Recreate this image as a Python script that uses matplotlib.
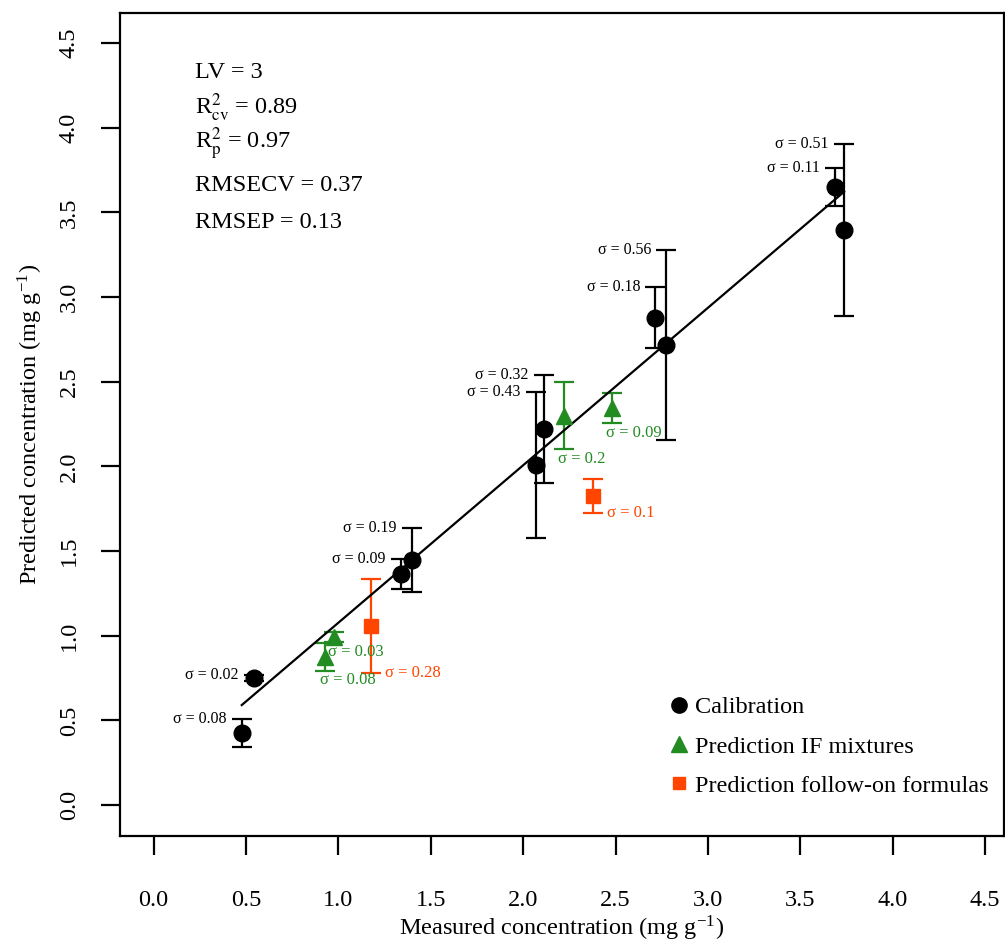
import numpy as np
import matplotlib.pyplot as plt
from matplotlib.lines import Line2D

plt.rcParams['font.family'] = ['Liberation Serif', 'DejaVu Serif']
plt.rcParams['mathtext.fontset'] = 'stix'

# calibration samples
cal_x = [0.477, 0.542, 1.337, 1.397, 2.067, 2.110, 2.716, 2.774, 3.688, 3.737]
cal_y = [0.425, 0.750, 1.364, 1.447, 2.008, 2.221, 2.877, 2.717, 3.650, 3.396]
cal_sd = [0.08, 0.02, 0.09, 0.19, 0.43, 0.32, 0.18, 0.56, 0.11, 0.51]

# prediction, IF mixtures
if_x = [0.975, 0.930, 2.220, 2.480]
if_y = [0.990, 0.874, 2.300, 2.345]
if_sd = [0.03, 0.08, 0.20, 0.09]

# prediction, follow-on formulas
fo_x = [1.175, 2.376]
fo_y = [1.057, 1.825]
fo_sd = [0.28, 0.10]

stats = ['LV = 3', r'R$^2_{\mathrm{cv}}$ = 0.89', r'R$^2_{\mathrm{p}}$ = 0.97',
         'RMSECV = 0.37', 'RMSEP = 0.13']
ticks = [0.0, 0.5, 1.0, 1.5, 2.0, 2.5, 3.0, 3.5, 4.0, 4.5]

GREEN = '#228B22'
ORANGE = '#FF4500'
FS = 17.5

fig = plt.figure(figsize=(10.05, 9.43), dpi=100)
ax = fig.add_axes([0.1194, 0.1135, 0.8796, 0.8727])

ekw = dict(linestyle='none', capsize=7, elinewidth=1.6, capthick=1.6)
ax.errorbar(cal_x, cal_y, yerr=cal_sd, fmt='o', color='black', ms=12, **ekw)
ax.errorbar(if_x, if_y, yerr=if_sd, fmt='^', color=GREEN, ms=12, **ekw)
ax.errorbar(fo_x, fo_y, yerr=fo_sd, fmt='s', color=ORANGE, ms=10, **ekw)

# regression line over calibration range
slope, icpt = np.polyfit(cal_x, cal_y, 1)
xl = np.array([min(cal_x), max(cal_x)])
ax.plot(xl, slope * xl + icpt, color='black', lw=1.6)

# sigma labels
for x, y, s in zip(cal_x, cal_y, cal_sd):
    ax.annotate('\u03c3 = %g' % s, (x, y + s), xytext=(-11, 0), textcoords='offset points',
                ha='right', va='center', fontsize=11.5)
for x, y, s in zip(if_x, if_y, if_sd):
    ax.annotate('\u03c3 = %g' % s, (x, y - s), xytext=(-4, -1), textcoords='offset points',
                ha='left', va='top', fontsize=12, color=GREEN)
for x, y, s in zip(fo_x, fo_y, fo_sd):
    ax.annotate('\u03c3 = %g' % s, (x, y - s), xytext=(10, 0), textcoords='offset points',
                ha='left', va='center', fontsize=12, color=ORANGE)

# stats block
ypos = [0.928, 0.885, 0.841, 0.791, 0.745]
for t, yy in zip(stats, ypos):
    ax.text(0.085, yy, t, transform=ax.transAxes, fontsize=FS, va='center', ha='left')

ax.set_xlim(-0.182, 4.602)
ax.set_ylim(-0.183, 4.678)
ax.set_xticks(ticks)
ax.set_xticklabels(['%.1f' % t for t in ticks], fontsize=FS)
ax.set_yticks(ticks)
ax.set_yticklabels(['%.1f' % t for t in ticks], fontsize=FS, rotation=90, va='center')
ax.tick_params(axis='x', direction='out', length=14, width=1.6, pad=25)
ax.tick_params(axis='y', direction='out', length=14, width=1.6, pad=15)
for sp in ax.spines.values():
    sp.set_linewidth(1.6)

ax.set_xlabel('Measured concentration (mg g$^{\\mathregular{-1}}$)', fontsize=FS, labelpad=1.5)
ax.set_ylabel('Predicted concentration (mg g$^{\\mathregular{-1}}$)', fontsize=FS, labelpad=10)

handles = [
    Line2D([], [], marker='o', color='black', ls='none', ms=11),
    Line2D([], [], marker='^', color=GREEN, ls='none', ms=11),
    Line2D([], [], marker='s', color=ORANGE, ls='none', ms=9),
]
ax.legend(handles, ['Calibration', 'Prediction IF mixtures', 'Prediction follow-on formulas'],
          loc='upper left', bbox_to_anchor=(0.619, 0.1695), frameon=False, fontsize=FS,
          borderpad=0, borderaxespad=0, handletextpad=0.15, labelspacing=0.7,
          handlelength=1.0)

fig.savefig('out.png', dpi=100)
